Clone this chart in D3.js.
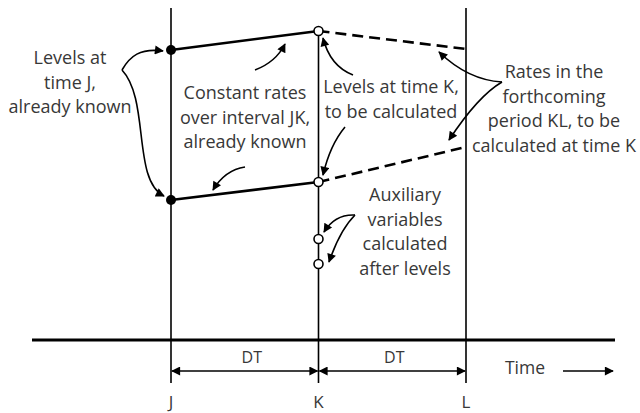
<!DOCTYPE html>
<html>
<head>
<meta charset="utf-8">
<script src="https://cdn.jsdelivr.net/npm/d3@7"></script>
<style>
  body { margin: 0; background: #fff; }
  text { font-family: "Open Sans", "Noto Sans", sans-serif; fill: #383838; }
</style>
</head>
<body>
<svg id="chart" width="640" height="413"></svg>
<script>
// time points and level values (y units measured up from the time axis)
const times = ['J', 'K', 'L'];
const upperLevels = [290, 309];      // at J, K
const upperRateEnd = 291;            // dashed end at L
const lowerLevels = [140, 158];      // at J, K
const lowerRateEnd = 193;            // dashed end at L
const auxValues = [101, 76];         // auxiliary variables at K
const intervalLabels = ['DT', 'DT'];

const svg = d3.select('#chart');
const width = 640;
const height = 413;

const x = d3.scalePoint().domain(times).range([171, 466]);
const y = d3.scaleLinear().domain([0, 340]).range([340, 0]);

// arrowhead marker
const defs = svg.append('defs');
defs.append('marker')
    .attr('id', 'arrow')
    .attr('viewBox', '0 0 10 10')
    .attr('refX', 9).attr('refY', 5)
    .attr('markerWidth', 12).attr('markerHeight', 9)
    .attr('markerUnits', 'userSpaceOnUse')
    .attr('orient', 'auto-start-reverse')
    .append('path')
    .attr('d', 'M0,0 L10,5 L0,10 Z')
    .attr('fill', '#000');

// time axis line
svg.append('line')
    .attr('x1', 32).attr('x2', 615)
    .attr('y1', y(0)).attr('y2', y(0))
    .attr('stroke', '#000').attr('stroke-width', 3);

// vertical time lines
svg.selectAll('.vline')
    .data(times)
    .enter().append('line')
    .attr('class', 'vline')
    .attr('x1', d => x(d)).attr('x2', d => x(d))
    .attr('y1', d => d === 'K' ? y(upperLevels[1]) : 8)
    .attr('y2', 383)
    .attr('stroke', '#000').attr('stroke-width', 1.6);

// solid rates over JK
const line = d3.line().x(d => x(d[0])).y(d => y(d[1]));
[upperLevels, lowerLevels].forEach(lv => {
    svg.append('path')
        .attr('d', line([['J', lv[0]], ['K', lv[1]]]))
        .attr('fill', 'none').attr('stroke', '#000').attr('stroke-width', 2.6);
});

// dashed rates over KL
[[upperLevels[1], upperRateEnd], [lowerLevels[1], lowerRateEnd]].forEach(lv => {
    svg.append('path')
        .attr('d', line([['K', lv[0]], ['L', lv[1]]]))
        .attr('fill', 'none').attr('stroke', '#000').attr('stroke-width', 2.6)
        .attr('stroke-dasharray', '11,6');
});

// known levels at J
svg.selectAll('.known')
    .data([upperLevels[0], lowerLevels[0]])
    .enter().append('circle')
    .attr('cx', x('J')).attr('cy', d => y(d)).attr('r', 5)
    .attr('fill', '#000');

// levels and auxiliaries at K
svg.selectAll('.open')
    .data([upperLevels[1], lowerLevels[1]].concat(auxValues))
    .enter().append('circle')
    .attr('cx', x('K')).attr('cy', d => y(d)).attr('r', 4.5)
    .attr('fill', '#fff').attr('stroke', '#000').attr('stroke-width', 1.6);

// DT interval arrows
const dtY = 371;
d3.pairs(times).forEach((p, i) => {
    svg.append('line')
        .attr('x1', x(p[0]) + 1).attr('x2', x(p[1]) - 1)
        .attr('y1', dtY).attr('y2', dtY)
        .attr('stroke', '#000').attr('stroke-width', 1.6)
        .attr('marker-start', 'url(#arrow)')
        .attr('marker-end', 'url(#arrow)');
    svg.append('text')
        .attr('x', (x(p[0]) + x(p[1])) / 2 + (i === 0 ? 7 : 2))
        .attr('y', 363)
        .attr('text-anchor', 'middle')
        .style('font-size', '16px')
        .text(intervalLabels[i]);
});

// time labels
svg.selectAll('.tlabel')
    .data(times)
    .enter().append('text')
    .attr('x', d => x(d)).attr('y', 408)
    .attr('text-anchor', 'middle')
    .style('font-size', '17px')
    .text(d => d);

// Time arrow
svg.append('text')
    .attr('x', 525).attr('y', 374)
    .attr('text-anchor', 'middle')
    .style('font-size', '17.5px')
    .text('Time');
svg.append('line')
    .attr('x1', 563).attr('x2', 613)
    .attr('y1', dtY).attr('y2', dtY)
    .attr('stroke', '#000').attr('stroke-width', 1.6)
    .attr('marker-end', 'url(#arrow)');

// annotation blocks
const notes = [
    { x: 70, y: 64, lines: ['Levels at', 'time J,', 'already known'] },
    { x: 245, y: 99, lines: ['Constant rates', 'over interval JK,', 'already known'] },
    { x: 391, y: 93, lines: ['Levels at time K,', 'to be calculated'] },
    { x: 554, y: 78, lines: ['Rates in the', 'forthcoming', 'period KL, to be', 'calculated at time K'] },
    { x: 405, y: 201, lines: ['Auxiliary', 'variables', 'calculated', 'after levels'] }
];
notes.forEach(n => {
    const t = svg.append('text')
        .attr('text-anchor', 'middle')
        .style('font-size', '18px');
    n.lines.forEach((s, i) => {
        t.append('tspan').attr('x', n.x).attr('y', n.y + i * 24.5).text(s);
    });
});

// curved pointer arrows
const pointers = [
    'M122,70 C130,56 140,48 163,51',
    'M122,70 C150,100 132,180 164,196',
    'M255,70 Q276,62 285,44',
    'M245,167 Q225,170 213,190',
    'M353,75 Q330,66 323,38',
    'M345,127 Q330,145 323,175',
    'M502,82 Q468,80 439,52',
    'M502,82 Q478,96 449,140',
    'M355,215 Q335,214 324,232',
    'M355,215 Q340,230 329,262'
];
svg.selectAll('.pointer')
    .data(pointers)
    .enter().append('path')
    .attr('d', d => d)
    .attr('fill', 'none')
    .attr('stroke', '#000').attr('stroke-width', 1.6)
    .attr('marker-end', 'url(#arrow)');
</script>
</body>
</html>
